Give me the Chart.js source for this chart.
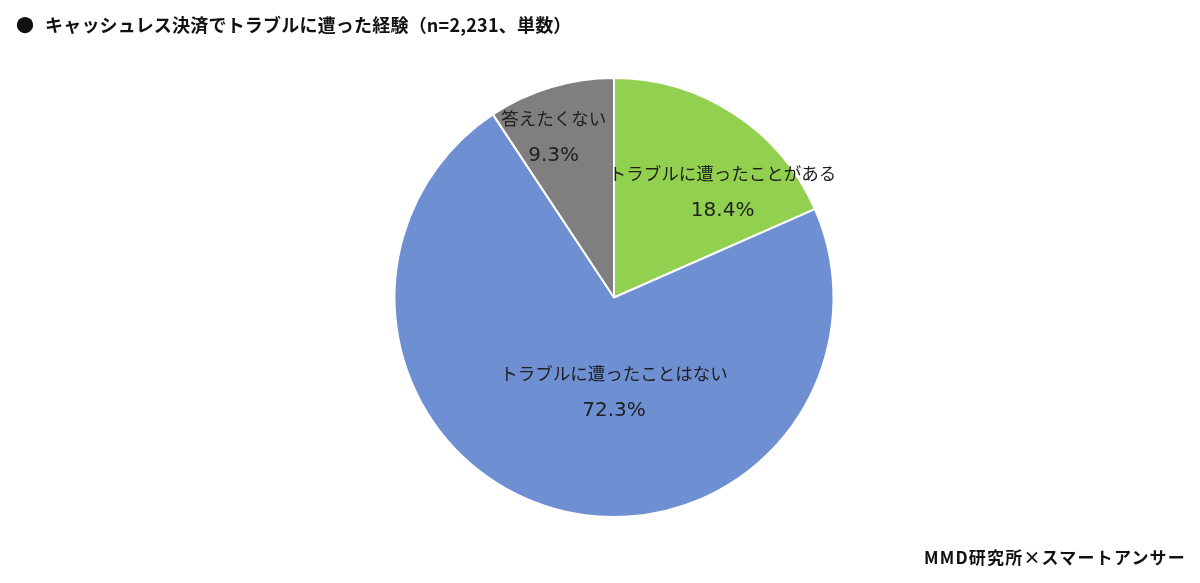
<!DOCTYPE html>
<html lang="ja">
<head>
<meta charset="utf-8">
<script src="https://cdn.jsdelivr.net/npm/chart.js@4/dist/chart.umd.min.js"></script>
<style>
  html, body { margin: 0; padding: 0; background: #fff; }
  #wrap { position: relative; width: 1200px; height: 583px; overflow: hidden; }
  #chart { position: absolute; left: 0; top: 0; }
  .title {
    position: absolute; left: 16px; top: 11px;
    font-family: "Noto Sans CJK JP", sans-serif; font-weight: bold;
    font-size: 18px; letter-spacing: 0.2px; color: #111; white-space: nowrap;
  }
  .title .dot { display: inline-block; width: 29px; letter-spacing: 0; }
  .source {
    position: absolute; right: 14px; top: 544px;
    font-family: "Noto Sans CJK JP", sans-serif; font-weight: bold;
    font-size: 17px; letter-spacing: 1.2px; color: #111; white-space: nowrap;
  }
</style>
</head>
<body>
<div id="wrap">
  <canvas id="chart" width="1200" height="583"></canvas>
  <div class="title"><span class="dot">●</span>キャッシュレス決済でトラブルに遭った経験（n=2,231、単数）</div>
  <div class="source">MMD研究所×スマートアンサー</div>
</div>
<script>
// データ
const categories = ['トラブルに遭ったことがある', 'トラブルに遭ったことはない', '答えたくない'];
const percents = [18.4, 72.3, 9.3];
const sliceColors = ['#92D050', '#6F8FD3', '#7F7F7F'];

// ラベル配置 (スライス中心角からのずれ[度], 半径に対する比率)
const labelLayout = [
    { shift: 12.7, dist: 0.69 },
    { shift: -16.4, dist: 0.43 },
    { shift: -3.9, dist: 0.78 }
];

// スライス内ラベルを描くプラグイン
const sliceLabels = {
    id: 'sliceLabels',
    afterDatasetsDraw(chart) {
        const ctx = chart.ctx;
        const meta = chart.getDatasetMeta(0);
        ctx.save();
        ctx.fillStyle = '#1f1f1f';
        ctx.textAlign = 'center';
        ctx.textBaseline = 'middle';
        meta.data.forEach((arc, i) => {
            const p = arc.getProps(['x', 'y', 'startAngle', 'endAngle', 'outerRadius'], true);
            const mid = (p.startAngle + p.endAngle) / 2 + labelLayout[i].shift * Math.PI / 180;
            const r = p.outerRadius * labelLayout[i].dist;
            const cx = p.x + Math.cos(mid) * r;
            const cy = p.y + Math.sin(mid) * r;
            ctx.font = "17.5px 'Noto Sans CJK JP', sans-serif";
            ctx.fillText(categories[i], cx, cy - 19);
            ctx.font = "20px 'DejaVu Sans', sans-serif";
            ctx.fillText(percents[i].toFixed(1) + '%', cx, cy + 19);
        });
        ctx.restore();
    }
};

new Chart(document.getElementById('chart'), {
    type: 'pie',
    data: {
        labels: categories,
        datasets: [{
            data: percents,
            backgroundColor: sliceColors,
            borderColor: '#FFFFFF',
            borderWidth: 2
        }]
    },
    options: {
        responsive: false,
        animation: false,
        layout: {
            padding: { left: 28, right: 0, top: 77, bottom: 65 }
        },
        plugins: {
            legend: { display: false },
            tooltip: { enabled: false }
        }
    },
    plugins: [sliceLabels]
});
</script>
</body>
</html>
